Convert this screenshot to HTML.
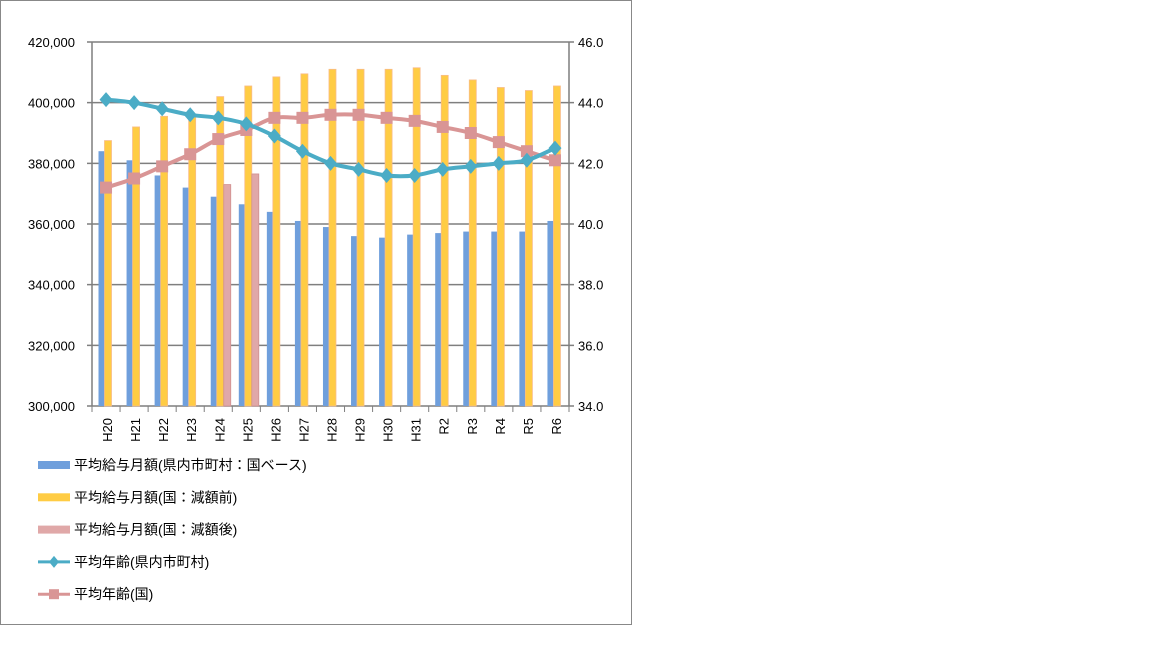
<!DOCTYPE html>
<html><head><meta charset="utf-8"><style>
body{margin:0;background:#fff;}
svg{display:block;font-family:"Liberation Sans","Noto Sans CJK JP",sans-serif;}
</style></head><body>
<svg id="c" width="1152" height="648" xmlns="http://www.w3.org/2000/svg">
<rect x="0.5" y="0.5" width="631" height="624" fill="#fff" stroke="#888"/>
</svg>
<script>
const s=document.getElementById('c');const NS="http://www.w3.org/2000/svg";
function el(t,a,txt){const e=document.createElementNS(NS,t);for(const k in a)e.setAttribute(k,a[k]);if(txt!==undefined)e.textContent=txt;s.appendChild(e);return e;}
const L=92,R=569,T=42,B=406,H=B-T,n=17,cw=(R-L)/n;
const yL=v=>B-(v-300)/120*H, yR=v=>B-(v-34)/12*H;
for(let i=0;i<=6;i++){const y=T+i*H/6;el('line',{x1:L-5,x2:R+5,y1:y,y2:y,stroke:'#7f7f7f','stroke-width':1.5});
el('text',{x:75,y:y+5,'text-anchor':'end','font-size':13,fill:'#000'},(420-i*20)+',000');
el('text',{x:578,y:y+5,'font-size':13,fill:'#000'},(46-i*2).toFixed(1));}
el('line',{x1:L,x2:L,y1:T,y2:B,stroke:'#7f7f7f','stroke-width':1.5});
el('line',{x1:R,x2:R,y1:T,y2:B,stroke:'#7f7f7f','stroke-width':1.5});
for(let i=0;i<=n;i++){const x=L+i*cw;el('line',{x1:x,x2:x,y1:B,y2:B+6,stroke:'#7f7f7f'});}
const cats=['H20','H21','H22','H23','H24','H25','H26','H27','H28','H29','H30','H31','R2','R3','R4','R5','R6'];
const blue=[384,381,376,372,369,366.5,364,361,359,356,355.5,356.5,357,357.5,357.5,357.5,361];
const org=[387.5,392,395.5,396,402,405.5,408.5,409.5,411,411,411,411.5,409,407.5,405,404,405.5];
const pink={4:373,5:376.5};
const teal=[44.1,44.0,43.8,43.6,43.5,43.3,42.9,42.4,42.0,41.8,41.6,41.6,41.8,41.9,42.0,42.1,42.5];
const pl=[41.2,41.5,41.9,42.3,42.8,43.1,43.5,43.5,43.6,43.6,43.5,43.4,43.2,43.0,42.7,42.4,42.1];
cats.forEach((c,i)=>{const x0=L+i*cw;
el('rect',{x:x0+6.5,y:yL(blue[i]),width:6,height:B-yL(blue[i]),fill:'#6f9fdc'});
el('rect',{x:x0+12.5,y:yL(org[i]),width:7,height:B-yL(org[i]),fill:'#ffcc44',stroke:'#f8bc88','stroke-width':0.8});
if(pink[i])el('rect',{x:x0+19.5,y:yL(pink[i]),width:7,height:B-yL(pink[i]),fill:'#e0a8a8',stroke:'#d09090','stroke-width':0.8});
const cx=x0+cw/2+1;el('text',{x:0,y:0,'font-size':13,'text-anchor':'end',transform:`translate(${cx+5},418) rotate(-90)`},c);});
function curve(v){const p=v.map((d,i)=>[L+i*cw+cw/2,yR(d)]);let d=`M${p[0]}`;
for(let i=0;i<p.length-1;i++){const p0=p[i-1]||p[i],p1=p[i],p2=p[i+1],p3=p[i+2]||p2,t=6;
d+=` C${p1[0]+(p2[0]-p0[0])/t},${p1[1]+(p2[1]-p0[1])/t} ${p2[0]-(p3[0]-p1[0])/t},${p2[1]-(p3[1]-p1[1])/t} ${p2[0]},${p2[1]}`;}return [d,p];}
let [d1,p1]=curve(pl);el('path',{d:d1,fill:'none',stroke:'#d99595','stroke-width':4});
p1.forEach(p=>el('rect',{x:p[0]-6,y:p[1]-6,width:12,height:12,fill:'#d99595'}));
let [d2,p2]=curve(teal);el('path',{d:d2,fill:'none',stroke:'#4bacc6','stroke-width':4});
p2.forEach(p=>el('path',{d:`M${p[0]},${p[1]-7.5}L${p[0]+6.5},${p[1]}L${p[0]},${p[1]+7.5}L${p[0]-6.5},${p[1]}Z`,fill:'#4bacc6'}));
const lg=[['平均給与月額(県内市町村：国ベース)','bar','#6f9fdc'],['平均給与月額(国：減額前)','bar','#ffcc44'],['平均給与月額(国：減額後)','bar','#e0a8a8'],['平均年齢(県内市町村)','d','#4bacc6'],['平均年齢(国)','s','#d99595']];
lg.forEach((g,i)=>{const y=465+i*32.3;
if(g[1]=='bar')el('rect',{x:38,y:y-4,width:32,height:8,fill:g[2]});
else{el('line',{x1:38,x2:70,y1:y,y2:y,stroke:g[2],'stroke-width':3});
if(g[1]=='d')el('path',{d:`M54,${y-6}L59,${y}L54,${y+6}L49,${y}Z`,fill:g[2]});else el('rect',{x:49,y:y-5,width:10,height:10,fill:g[2]});}
el('text',{x:74,y:y+5,'font-size':14},g[0]);});
</script>
</body></html>
